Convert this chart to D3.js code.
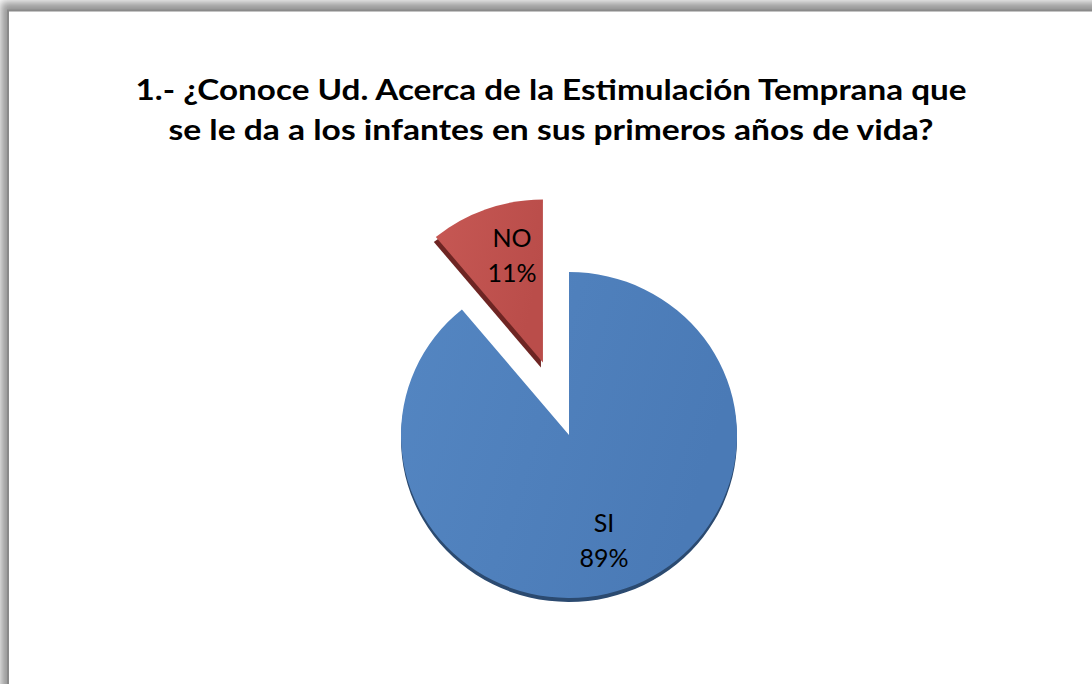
<!DOCTYPE html>
<html>
<head>
<meta charset="utf-8">
<script src="https://cdn.jsdelivr.net/npm/d3@7"></script>
<style>
  html, body { margin: 0; padding: 0; background: #ffffff; }
  svg { display: block; }
</style>
</head>
<body>
<svg id="chart" width="1092" height="684"></svg>
<script>
// ---- data ----
const titleLines = [
  "1.- ¿Conoce Ud. Acerca de la Estimulación Temprana que",
  "se le da a los infantes en sus primeros años de vida?"
];
const categories = ["SI", "NO"];
const values = [89, 11];
const percentLabels = ["89%", "11%"];

// ---- layout ----
const W = 1092, H = 684;
const cx = 569, cy = 435, rx = 168, ry = 163;
const explodeDist = 77;
const dark = { SI: "#2b4a70", NO: "#6e2523" };

const svg = d3.select("#chart");
const defs = svg.append("defs");

const blur = defs.append("filter").attr("id", "blur")
  .attr("x", "-10%").attr("y", "-10%").attr("width", "120%").attr("height", "120%");
blur.append("feGaussianBlur").attr("stdDeviation", 4);

function grad(id, c1, c2, x2, y2) {
  const g = defs.append("linearGradient").attr("id", id)
    .attr("x1", "0%").attr("y1", "0%").attr("x2", x2).attr("y2", y2);
  g.append("stop").attr("offset", "0%").attr("stop-color", c1);
  g.append("stop").attr("offset", "100%").attr("stop-color", c2);
}
grad("gSI", "#5486c2", "#4a7ab6", "100%", "30%");
grad("gNO", "#c65854", "#ba4d4a", "100%", "30%");

svg.append("rect").attr("x", 0).attr("y", 0).attr("width", W).attr("height", H).attr("fill", "#ffffff");
svg.append("rect").attr("x", 1).attr("y", 2).attr("width", W + 40).attr("height", H + 40)
  .attr("fill", "#959595").attr("filter", "url(#blur)");
svg.append("rect").attr("x", 8).attr("y", 10.5).attr("width", W + 40).attr("height", H + 40)
  .attr("fill", "#ffffff").attr("stroke", "#8a8a8a").attr("stroke-width", 2);

// title
const title = svg.append("g")
  .attr("font-family", "Lato, 'Open Sans', sans-serif")
  .attr("font-weight", "bold")
  .attr("font-size", 29)
  .attr("fill", "#000");
const titleWidths = [831, 765];
const titleBase = [100, 140];
titleLines.forEach((t, i) => {
  title.append("text")
    .attr("x", 551).attr("y", titleBase[i])
    .attr("text-anchor", "middle")
    .attr("textLength", titleWidths[i])
    .attr("lengthAdjust", "spacingAndGlyphs")
    .text(t);
});

// pie
const data = categories.map((c, i) => ({ cat: c, value: values[i], label: percentLabels[i] }));
const pie = d3.pie().value(d => d.value).sort(null);
const arcs = pie(data);
const arc = d3.arc().innerRadius(0).outerRadius(rx);

const pieG = svg.append("g").attr("transform", `translate(${cx},${cy})`);

function offset(d) {
  if (d.data.cat !== "NO") return [0, 0];
  const a = (d.startAngle + d.endAngle) / 2;
  return [Math.sin(a) * explodeDist, -Math.cos(a) * explodeDist];
}

const sliceG = pieG.selectAll("g.slice").data(arcs).join("g")
  .attr("class", "slice")
  .attr("transform", d => { const o = offset(d); return `translate(${o[0]},${o[1]})`; });

// depth (3D side)
sliceG.append("path")
  .attr("d", arc)
  .attr("transform", d => d.data.cat === "NO" ? `translate(-2,5) scale(1,${ry / rx})` : `translate(0,4) scale(1,${ry / rx})`)
  .attr("fill", d => dark[d.data.cat]);

sliceG.append("path")
  .attr("d", arc)
  .attr("transform", `scale(1,${ry / rx})`)
  .attr("fill", d => d.data.cat === "SI" ? "url(#gSI)" : "url(#gNO)");

// labels
const labelPos = { SI: [604, 532, 567], NO: [512, 247, 282] };
const lab = svg.append("g")
  .attr("font-family", "Lato, 'Open Sans', sans-serif")
  .attr("font-size", 25)
  .attr("fill", "#000")
  .attr("text-anchor", "middle");
data.forEach(d => {
  const p = labelPos[d.cat];
  lab.append("text").attr("x", p[0]).attr("y", p[1]).text(d.cat);
  lab.append("text").attr("x", p[0]).attr("y", p[2]).text(d.label);
});
</script>
</body>
</html>
